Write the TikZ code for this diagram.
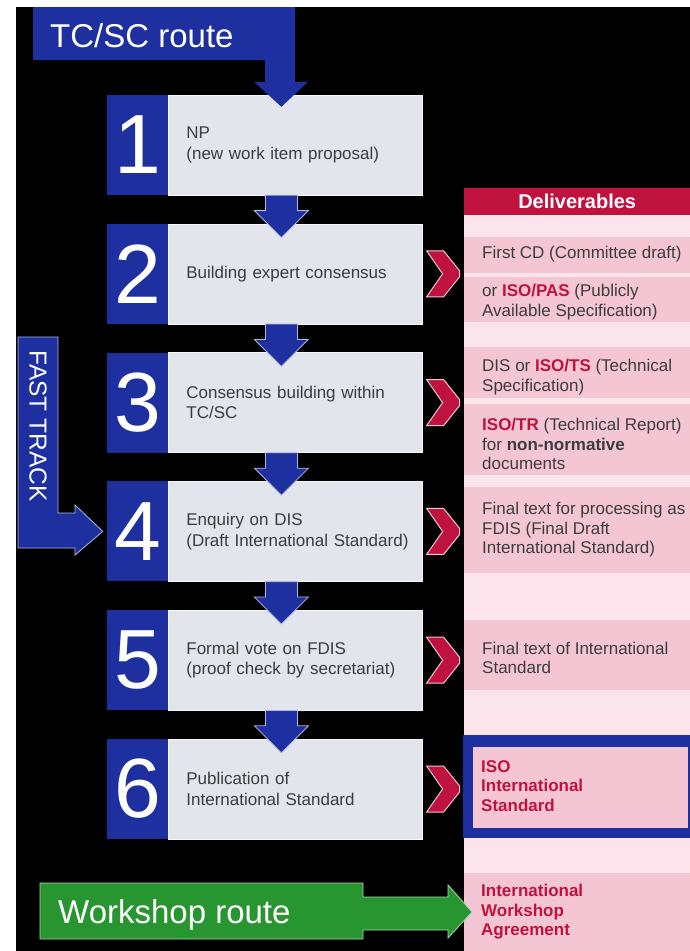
\documentclass[tikz,border=0pt]{standalone}
\usepackage{fontspec}
\setmainfont{Liberation Sans}
\usetikzlibrary{positioning,calc}
\definecolor{isoblue}{RGB}{30,48,160}
\definecolor{isogrey}{RGB}{226,229,236}
\definecolor{isotext}{RGB}{60,60,64}
\definecolor{isored}{RGB}{192,18,62}
\definecolor{isopink}{RGB}{244,198,211}
\definecolor{isopale}{RGB}{251,228,235}
\definecolor{isogreen}{RGB}{40,150,48}
\newcommand{\stepfont}{\fontsize{17}{20.5}\selectfont\hyphenpenalty=10000}
\newcommand{\delivfont}{\fontsize{17}{19.5}\selectfont}
\newcommand{\routefont}{\fontsize{33}{33}\selectfont}
\newcommand{\iso}[1]{\textcolor{isored}{\bfseries #1}}
% block arrow from one step down to the next
\newcommand{\flowdown}[2]{%
  \filldraw[flow] let \p1=(#1.south), \p2=(#2.north) in
    (\x1-30pt,\y1) -- (\x1+2pt,\y1) -- (\x1+2pt,\y2+13pt) -- (\x1+13pt,\y2+13pt)
    -- (\x1-14pt,\y2-14pt) -- (\x1-41pt,\y2+13pt) -- (\x1-30pt,\y2+13pt) -- cycle;}
% red chevron on the right of a step
\newcommand{\chevron}[1]{%
  \filldraw[chev] let \p1=(#1.east) in
    (\x1+4pt,\y1+23pt) -- (\x1+21pt,\y1+23pt) -- (\x1+37pt,\y1+3pt) -- (\x1+37pt,\y1-3pt)
    -- (\x1+21pt,\y1-23pt) -- (\x1+4pt,\y1-23pt) -- (\x1+20pt,\y1) -- cycle;}

\begin{document}
\begin{tikzpicture}[x=1pt,y=-1pt,
  stepnum/.style={fill=isoblue,text=white,minimum width=61pt,minimum height=100pt,
    inner sep=0pt,font=\fontsize{84}{84}\selectfont},
  stepbox/.style={fill=isogrey,draw=white!70!isogrey,minimum height=100pt,
    text width=218pt,inner xsep=18pt,align=left,text=isotext,font=\stepfont},
  flow/.style={fill=isoblue,draw=white!65!isoblue,line width=0.8pt},
  chev/.style={fill=isored,draw=white!75!isored,line width=1pt},
  route/.style={anchor=base west,inner sep=0pt,text=white,font=\routefont},
  deliv/.style={anchor=west,inner sep=0pt,align=left,text=isotext,font=\delivfont},
  final/.style={deliv,text=isored,font=\delivfont\bfseries}]
\useasboundingbox (0,0) rectangle (690,951);
\fill[black] (16,7) rectangle (690,951);

% deliverables column
\fill[isopale] (464,188) rectangle (690,951);
\foreach \a/\b in {237/273,277/322,347/398,404/475,487/573,620/690,873/951}
  \fill[isopink] (464,\a) rectangle (690,\b);
\node[fill=isored,text=white,font=\fontsize{20}{24}\selectfont\bfseries,
  minimum width=226pt,minimum height=27pt,inner sep=0pt,anchor=north west]
  (head) at (464,188) {Deliverables};
\fill[isoblue] (463,735) rectangle (690,838);
\fill[isopink] (473,747) rectangle (688,828);
\node[deliv] (d1) at (482,254) {First CD (Committee draft)};
\node[deliv] (d2) at (482,302) {or \iso{ISO/PAS} (Publicly\\Available Specification)};
\node[deliv] (d3) at (482,377) {DIS or \iso{ISO/TS} (Technical\\Specification)};
\node[deliv] (d4) at (482,444) {\iso{ISO/TR} (Technical Report)\\for \textbf{non-normative}\\documents};
\node[deliv] (d5) at (482,530) {Final text for processing as\\FDIS (Final Draft\\International Standard)};
\node[deliv] (d6) at (482,658) {Final text of International\\Standard};
\node[final] (is) at (481,786) {ISO\\International\\Standard};
\node[final] (iwa) at (481,912) {International\\Workshop\\Agreement};

% the six stages
\node[stepnum] (n1) at (137.5,145) {1};
\node[stepbox,right=0pt of n1] (s1) {NP\\(new work item proposal)};
\node[stepnum,below=28.4pt of n1] (n2) {2};
\node[stepbox,right=0pt of n2] (s2) {Building expert consensus};
\node[stepnum,below=28.4pt of n2] (n3) {3};
\node[stepbox,right=0pt of n3] (s3) {Consensus building within\\TC/SC};
\node[stepnum,below=28.4pt of n3] (n4) {4};
\node[stepbox,right=0pt of n4] (s4) {Enquiry on DIS\\(Draft~International~Standard)};
\node[stepnum,below=28.4pt of n4] (n5) {5};
\node[stepbox,right=0pt of n5] (s5) {Formal vote on FDIS\\(proof check by secretariat)};
\node[stepnum,below=28.4pt of n5] (n6) {6};
\node[stepbox,right=0pt of n6] (s6) {Publication of\\International Standard};
\flowdown{s1}{s2}
\flowdown{s2}{s3}
\flowdown{s3}{s4}
\flowdown{s4}{s5}
\flowdown{s5}{s6}
\foreach \s in {s2,s3,s4,s5,s6}{\chevron{\s}}

% TC/SC route banner
\fill[isoblue] let \p2=(s1.north) in
  (33,7) -- (295,7) -- (295,\y2+13pt) -- (308,\y2+13pt) -- (\x2-14pt,\y2-12pt)
  -- (254,\y2+13pt) -- (265,\y2+13pt) -- (265,60) -- (33,60) -- cycle;
\node[route] (tcsc) at (50,47) {TC/SC route};

% fast track
\filldraw[flow] let \p1=(n4.west) in
  (18,337) -- (58,337) -- (58,513) -- (75,513) -- (75,505) -- (\x1-4pt,\y1)
  -- (75,555) -- (75,548) -- (18,548) -- cycle;
\node[rotate=-90,text=white,inner sep=0pt,font=\fontsize{24.5}{24.5}\selectfont]
  (fast) at (38,426) {FAST TRACK};

% workshop route
\filldraw[flow,fill=isogreen,draw=white!60!isogreen] let \p1=(iwa.west) in
  (40,883) -- (363,883) -- (363,897) -- (448,897) -- (448,885) -- (\x1-9pt,\y1)
  -- (448,938) -- (448,930) -- (363,930) -- (363,939) -- (40,939) -- cycle;
\node[route] (ws) at (58,923) {Workshop route};
\end{tikzpicture}
\end{document}
